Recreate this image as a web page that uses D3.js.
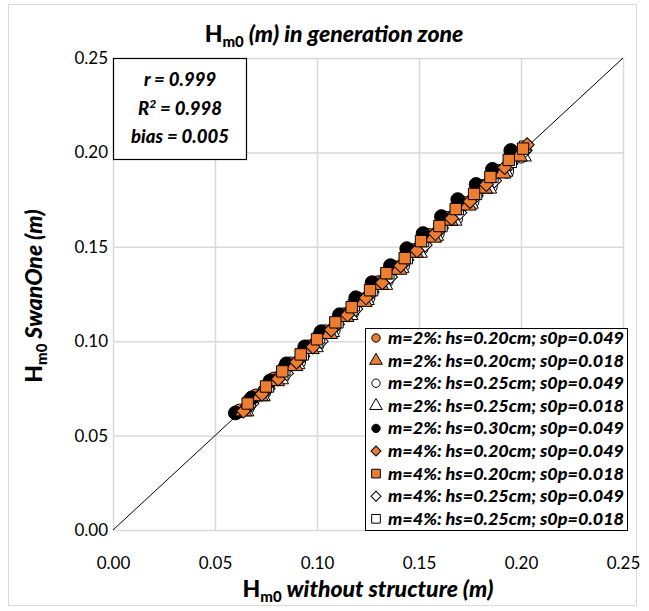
<!DOCTYPE html>
<html>
<head>
<meta charset="utf-8">
<script src="https://cdn.jsdelivr.net/npm/d3@7"></script>
<style>
  body { margin: 0; background: #fff; }
  text { font-family: Lato, "Open Sans", sans-serif; fill: #000; }
</style>
</head>
<body>
<svg id="chart" width="649" height="611"></svg>
<script>
// DATA
const seriesNames = [
  "m=2%: hs=0.20cm; s0p=0.049",
  "m=2%: hs=0.20cm; s0p=0.018",
  "m=2%: hs=0.25cm; s0p=0.049",
  "m=2%: hs=0.25cm; s0p=0.018",
  "m=2%: hs=0.30cm; s0p=0.049",
  "m=4%: hs=0.20cm; s0p=0.049",
  "m=4%: hs=0.20cm; s0p=0.018",
  "m=4%: hs=0.25cm; s0p=0.049",
  "m=4%: hs=0.25cm; s0p=0.018"
];

const xS1 = [0.062,0.070,0.079,0.087,0.096,0.104,0.113,0.121,0.130,0.138,0.147,0.155,0.164,0.172,0.181,0.189,0.198];
const yS1 = [0.063,0.071,0.080,0.088,0.097,0.105,0.114,0.122,0.131,0.139,0.148,0.156,0.165,0.173,0.182,0.190,0.199];
const xS2 = [0.064,0.072,0.080,0.089,0.097,0.106,0.114,0.123,0.131,0.140,0.148,0.157,0.165,0.174,0.182,0.191,0.199];
const yS2 = [0.063,0.071,0.079,0.087,0.096,0.104,0.113,0.121,0.130,0.138,0.147,0.155,0.164,0.172,0.181,0.189,0.198];
const xS3 = [0.066,0.074,0.083,0.091,0.100,0.108,0.117,0.125,0.134,0.142,0.151,0.159,0.168,0.176,0.185,0.193,0.200];
const yS3 = [0.065,0.073,0.081,0.089,0.098,0.106,0.115,0.123,0.132,0.140,0.149,0.157,0.165,0.174,0.182,0.190,0.198];
const xS4 = [0.065,0.073,0.082,0.090,0.099,0.107,0.116,0.124,0.133,0.141,0.150,0.158,0.167,0.175,0.184,0.192,0.201];
const yS4 = [0.063,0.071,0.080,0.088,0.097,0.105,0.114,0.122,0.130,0.139,0.147,0.156,0.164,0.173,0.181,0.190,0.198];
const xS5 = [0.060,0.068,0.077,0.085,0.094,0.102,0.111,0.119,0.127,0.136,0.144,0.152,0.161,0.169,0.178,0.186,0.195];
const yS5 = [0.062,0.070,0.079,0.088,0.097,0.105,0.114,0.123,0.131,0.140,0.149,0.157,0.166,0.175,0.183,0.191,0.201];
const xS6 = [0.064,0.073,0.081,0.090,0.098,0.107,0.115,0.124,0.132,0.141,0.149,0.158,0.166,0.175,0.183,0.192,0.203];
const yS6 = [0.063,0.072,0.080,0.089,0.097,0.106,0.114,0.123,0.131,0.140,0.148,0.157,0.165,0.174,0.183,0.192,0.204];
const xS7 = [0.066,0.075,0.083,0.092,0.100,0.109,0.117,0.126,0.134,0.143,0.151,0.160,0.168,0.177,0.185,0.194,0.201];
const yS7 = [0.067,0.076,0.084,0.093,0.101,0.110,0.118,0.127,0.136,0.144,0.153,0.161,0.170,0.178,0.187,0.196,0.202];
const xS8 = [0.068,0.076,0.085,0.093,0.102,0.110,0.119,0.127,0.136,0.144,0.153,0.161,0.170,0.178,0.187,0.195,0.202];
const yS8 = [0.067,0.075,0.083,0.092,0.100,0.109,0.117,0.126,0.134,0.143,0.151,0.160,0.168,0.177,0.185,0.194,0.201];
const xS9 = [0.067,0.076,0.084,0.093,0.101,0.110,0.118,0.127,0.135,0.144,0.152,0.161,0.169,0.178,0.186,0.195,0.202];
const yS9 = [0.068,0.076,0.085,0.093,0.102,0.110,0.119,0.127,0.136,0.144,0.153,0.161,0.170,0.178,0.187,0.195,0.203];

const xTicks = [0, 0.05, 0.10, 0.15, 0.20, 0.25];
const yTicks = [0, 0.05, 0.10, 0.15, 0.20, 0.25];
const statLines = ["r = 0.999", "R2 = 0.998", "bias = 0.005"];

// CANVAS SETUP
const svg = d3.select("#chart");
const margin = { top: 58, right: 26, bottom: 81, left: 113 };
const W = 649, H = 611;
const width = W - margin.left - margin.right,
  height = H - margin.top - margin.bottom;

const orange = "#ED7D31";
const styles = [
  { sym: "circle", fill: orange },
  { sym: "triangle", fill: orange },
  { sym: "circle", fill: "#fff" },
  { sym: "triangle", fill: "#fff" },
  { sym: "circle", fill: "#000" },
  { sym: "diamond", fill: orange },
  { sym: "square", fill: orange },
  { sym: "diamond", fill: "#fff" },
  { sym: "square", fill: "#fff" }
];
// white markers sit underneath, orange squares end up on top
const drawOrder = [2, 3, 7, 8, 0, 4, 1, 5, 6];

const xs = [xS1, xS2, xS3, xS4, xS5, xS6, xS7, xS8, xS9];
const ys = [yS1, yS2, yS3, yS4, yS5, yS6, yS7, yS8, yS9];
const series = seriesNames.map((name, i) => ({
  name,
  style: styles[i],
  points: xs[i].map((x, j) => ({ x, y: ys[i][j] }))
}));

// chart outer border
svg.append("rect")
  .attr("x", 8.5).attr("y", 4.5)
  .attr("width", 628).attr("height", 601)
  .attr("fill", "#fff").attr("stroke", "#d9d9d9");

const x = d3.scaleLinear().domain([0, 0.25]).range([0, width]);
const y = d3.scaleLinear().domain([0, 0.25]).range([height, 0]);

const g = svg.append("g").attr("transform", `translate(${margin.left},${margin.top})`);

// grid
g.append("g").selectAll("line").data(xTicks).join("line")
  .attr("x1", d => x(d) + 0.5).attr("x2", d => x(d) + 0.5)
  .attr("y1", 0).attr("y2", height)
  .attr("stroke", "#d9d9d9").attr("stroke-width", 1.5);
g.append("g").selectAll("line").data(yTicks).join("line")
  .attr("y1", d => y(d) + 0.5).attr("y2", d => y(d) + 0.5)
  .attr("x1", 0).attr("x2", width)
  .attr("stroke", "#d9d9d9").attr("stroke-width", 1.5);

// axes (labels only)
const xAxis = g.append("g").attr("transform", `translate(0,${height})`)
  .call(d3.axisBottom(x).tickValues(xTicks).tickFormat(d3.format(".2f")).tickSize(0).tickPadding(27));
const yAxis = g.append("g")
  .call(d3.axisLeft(y).tickValues(yTicks).tickFormat(d3.format(".2f")).tickSize(0).tickPadding(5));
[xAxis, yAxis].forEach(a => {
  a.select(".domain").remove();
  a.selectAll("text").style("font-family", "Lato, sans-serif").style("font-size", "17px").attr("fill", "#000");
});

// 1:1 line
g.append("line")
  .attr("x1", x(0)).attr("y1", y(0)).attr("x2", x(0.25)).attr("y2", y(0.25))
  .attr("stroke", "#000").attr("stroke-width", 1);

// markers
function symPath(s, size) {
  const type = s === "circle" ? d3.symbolCircle
    : s === "triangle" ? d3.symbolTriangle
    : d3.symbolSquare;
  return d3.symbol().type(type).size(size)();
}
const sizes = { circle: 150, triangle: 120, square: 130, diamond: 100 };

drawOrder.forEach(i => {
  const s = series[i];
  g.append("g").selectAll("path").data(s.points).join("path")
    .attr("d", symPath(s.style.sym, sizes[s.style.sym]))
    .attr("transform", d => `translate(${x(d.x)},${y(d.y)})` + (s.style.sym === "diamond" ? " rotate(45)" : ""))
    .attr("fill", s.style.fill)
    .attr("stroke", "#000").attr("stroke-width", 1);
});

// stats box
const box = svg.append("g").attr("transform", `translate(${margin.left},${margin.top})`);
box.append("rect").attr("x", 0.5).attr("y", 0.5).attr("width", 133).attr("height", 101)
  .attr("fill", "#fff").attr("stroke", "#000").attr("stroke-width", 1.2);
const st = box.append("text").attr("text-anchor", "middle")
  .style("font-size", "18.5px").style("font-weight", "900").style("font-style", "italic");
st.append("tspan").attr("x", 67).attr("y", 28).text(statLines[0]);
const l2 = st.append("tspan").attr("x", 67).attr("y", 57);
l2.append("tspan").text("R");
l2.append("tspan").attr("dy", -7).style("font-size", "12px").text("2");
l2.append("tspan").attr("dy", 7).text(" = 0.998");
st.append("tspan").attr("x", 67).attr("y", 85).text(statLines[2]);

// legend
const leg = svg.append("g").attr("transform", "translate(365,328)");
leg.append("rect").attr("x", 0.5).attr("y", 0.5).attr("width", 262).attr("height", 202)
  .attr("fill", "#fff").attr("stroke", "#000").attr("stroke-width", 1);
const legSizes = { circle: 55, triangle: 70, square: 75, diamond: 50 };
const items = leg.selectAll("g.item").data(series).join("g")
  .attr("class", "item")
  .attr("transform", (d, i) => `translate(0,${10 + i * 22.6})`);
items.append("path")
  .attr("d", d => symPath(d.style.sym, legSizes[d.style.sym]))
  .attr("transform", d => "translate(11,0)" + (d.style.sym === "diamond" ? " rotate(45)" : ""))
  .attr("fill", d => d.style.fill).attr("stroke", "#000").attr("stroke-width", 1);
items.append("text").attr("x", 23).attr("y", 6)
  .style("font-size", "17.5px").style("font-weight", "900").style("font-style", "italic")
  .attr("textLength", 236).attr("lengthAdjust", "spacingAndGlyphs")
  .text(d => d.name);

// title
const title = svg.append("text").attr("x", 334).attr("y", 42).attr("text-anchor", "middle")
  .style("font-size", "23px").style("font-weight", "900");
title.append("tspan").text("H");
title.append("tspan").attr("dy", 5).style("font-size", "15px").text("m0");
title.append("tspan").attr("dy", -5).style("font-style", "italic").text(" (m) in generation zone");

// x label
const xl = svg.append("text").attr("x", 368).attr("y", 597).attr("text-anchor", "middle")
  .style("font-size", "23px").style("font-weight", "900");
xl.append("tspan").text("H");
xl.append("tspan").attr("dy", 5).style("font-size", "15px").text("m0");
xl.append("tspan").attr("dy", -5).style("font-style", "italic").text(" without structure (m)");

// y label
const yl = svg.append("text").attr("transform", "translate(42,296) rotate(-90)").attr("text-anchor", "middle")
  .style("font-size", "23px").style("font-weight", "900");
yl.append("tspan").text("H");
yl.append("tspan").attr("dy", 5).style("font-size", "15px").text("m0");
yl.append("tspan").attr("dy", -5).style("font-style", "italic").text(" SwanOne (m)");
</script>
</body>
</html>
